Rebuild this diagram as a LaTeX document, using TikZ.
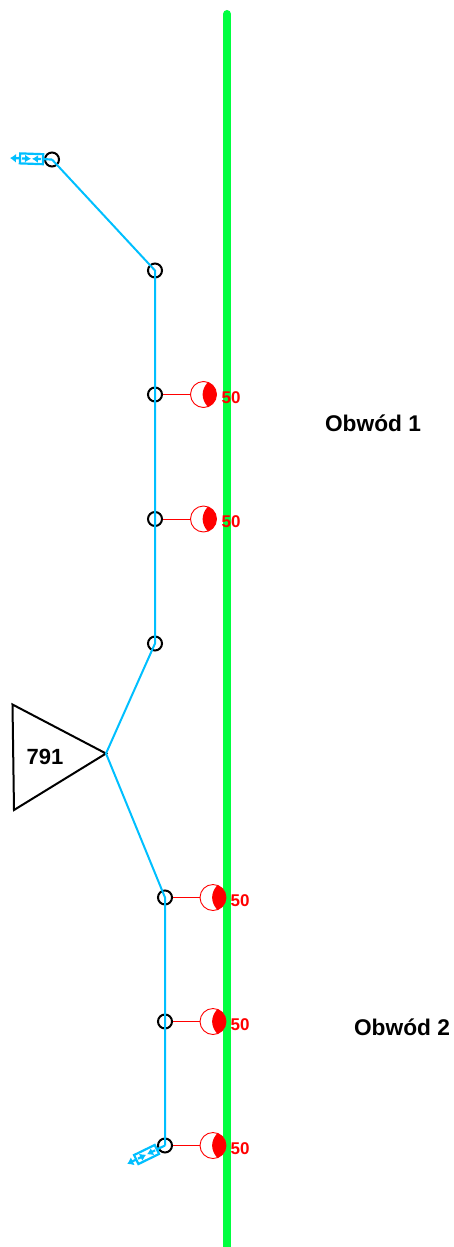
\documentclass[tikz,border=0pt]{standalone}
\usepackage{fontspec}
\setmainfont{Liberation Sans}
\usetikzlibrary{arrows.meta}
\definecolor{feeder}{RGB}{0,191,255}
\definecolor{busbar}{RGB}{0,255,64}
\tikzset{
  joint/.style={circle,draw=black,line width=2pt,minimum size=14pt,inner sep=0pt},
  relay/.style={circle,draw=red,line width=0.9pt,fill=white,minimum size=26pt,inner sep=0pt,
    path picture={\fill[red] ([shift={(4,-12)}]path picture bounding box.center)
      .. controls ([shift={(-2.5,-4)}]path picture bounding box.center) and ([shift={(-2.5,4)}]path picture bounding box.center)
      .. ([shift={(4,12)}]path picture bounding box.center) -- ++(20,0) -- ++(0,-24) -- cycle;}},
  current/.style={text=red,font=\bfseries\fontsize{17}{17}\selectfont,inner sep=0pt},
  caption/.style={font=\bfseries\fontsize{22.7}{23}\selectfont,inner sep=0pt},
  line/.style={feeder,line width=2pt},
  cableend/.pic={
    \draw[feeder,line width=2.2pt] (-9,0) -- (0,0);
    \draw[feeder,line width=2.2pt] (-32,-5) rectangle (-9,5);
    \draw[feeder,line width=2.2pt,-{Latex[length=6pt,width=9pt]}] (-32,0) -- (-42,0);
    \draw[feeder,line width=2.2pt,-{Latex[length=6pt,width=8pt]}] (-30,0) -- (-21,0);
    \draw[feeder,line width=2.2pt,-{Latex[length=6pt,width=8pt]}] (-11,0) -- (-20,0);
  }
}
\begin{document}
\begin{tikzpicture}[x=1pt,y=-1pt]
  \useasboundingbox (0,0) rectangle (454,1247);
  % busbar
  \coordinate (bustop) at (227,14);
  \coordinate (busend) at (227,1250);
  \draw[busbar,line width=8pt,line cap=round] (bustop) -- (busend);
  % joints
  \node[joint] (j1) at (52,159.5) {};
  \node[joint] (j2) at (155,270.5) {};
  \node[joint] (j3) at (155,394.5) {};
  \node[joint] (j4) at (155,519) {};
  \node[joint] (j5) at (155,643.5) {};
  \node[joint] (j6) at (165,897.5) {};
  \node[joint] (j7) at (165,1021.5) {};
  \node[joint] (j8) at (165,1145.5) {};
  % transformer
  \coordinate (ta) at (12.5,704.5);
  \coordinate (tb) at (106,753.5);
  \coordinate (tc) at (14,810);
  \draw[line width=2pt,line join=miter] (ta) -- (tb) -- (tc) -- cycle;
  \node[font=\bfseries\fontsize{22}{22}\selectfont,inner sep=0pt] (trafo) at (45,757) {791};
  % feeder
  \draw[line] (j1.center) -- (j2.center) -- (j3.center) -- (j4.center) -- (j5.center) -- (tb) -- (j6.center) -- (j7.center) -- (j8.center);
  \pic[rotate=-2] at (j1.center) {cableend};
  \pic[rotate=26] at (j8.center) {cableend};
  % relays
  \node[relay] (r1) at (203.5,394.5) {};
  \node[relay] (r2) at (203.5,519) {};
  \node[relay] (r3) at (213,897.5) {};
  \node[relay] (r4) at (213,1021.5) {};
  \node[relay] (r5) at (213,1145.5) {};
  \draw[red,line width=0.9pt] (j3) -- (r1);
  \draw[red,line width=0.9pt] (j4) -- (r2);
  \draw[red,line width=0.9pt] (j6) -- (r3);
  \draw[red,line width=0.9pt] (j7) -- (r4);
  \draw[red,line width=0.9pt] (j8) -- (r5);
  \node[current] (c1) at (231,397.5) {50};
  \node[current] (c2) at (231,522) {50};
  \node[current] (c3) at (240,900.5) {50};
  \node[current] (c4) at (240,1025) {50};
  \node[current] (c5) at (240,1149) {50};
  % circuits
  \node[caption] (o1) at (373,423) {Obwód 1};
  \node[caption] (o2) at (402,1027) {Obwód 2};
\end{tikzpicture}
\end{document}
